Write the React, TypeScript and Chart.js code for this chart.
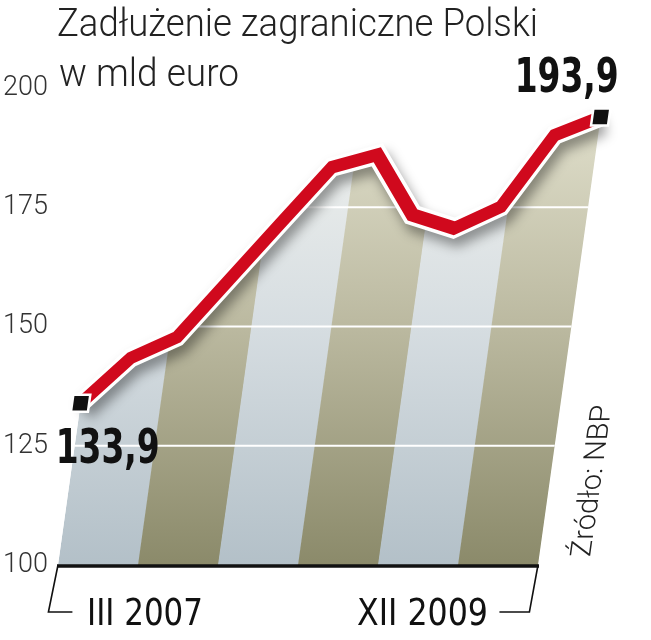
import React, { useEffect, useRef } from "react";
import { Chart, registerables } from "chart.js";

Chart.register(...registerables);

// ---- data ----
const categories = [
  "III 2007", "VI 2007", "IX 2007", "XII 2007",
  "III 2008", "VI 2008", "IX 2008", "XII 2008",
  "III 2009", "VI 2009", "IX 2009", "XII 2009",
];
const debtValues = [133.9, 143.4, 147.8, 159.7, 171.6, 183.4, 186.0, 173.4, 170.6, 175.1, 190.1, 193.9];
const yTicks = [100, 125, 150, 175, 200];
const titleLines = ["Zadłużenie zagraniczne Polski", "w mld euro"];
const sourceText = "Źródło: NBP";

// ---- styles ----
const SKEW = 0.14;
const bandColors = [
  ["#f3f4f0", "#d6dde1", "#b3c0c8"],
  ["#e4e3d0", "#bbb9a0", "#8b8a6a"],
  ["#f3f4f0", "#d6dde1", "#b3c0c8"],
  ["#e4e3d0", "#bbb9a0", "#8b8a6a"],
  ["#f3f4f0", "#d6dde1", "#b3c0c8"],
  ["#e4e3d0", "#bbb9a0", "#8b8a6a"],
];
const NARROW_BOLD = "bold 48px 'Liberation Sans Narrow', 'DejaVu Sans Condensed', sans-serif";
const NARROW = "37px 'DejaVu Sans Condensed', 'Liberation Sans Narrow', sans-serif";
const LIGHT = "Roboto, 'DejaVu Sans', sans-serif";

const fmt = (v: number) => v.toFixed(1).replace(".", ",");

const perspectivePlugin = {
  id: "perspective",
  beforeDatasetsDraw(chart: any) {
    const { ctx, chartArea: a, scales } = chart;
    ctx.save();
    ctx.transform(1, 0, -SKEW, 1, SKEW * a.bottom, 0);
    const pts = chart.getDatasetMeta(1).data;
    ctx.save();
    ctx.beginPath();
    ctx.moveTo(pts[0].x, a.bottom);
    pts.forEach((p: any) => ctx.lineTo(p.x, p.y));
    ctx.lineTo(pts[pts.length - 1].x, a.bottom);
    ctx.closePath();
    ctx.clip();
    const bw = (a.right - a.left) / bandColors.length;
    bandColors.forEach((stops, j) => {
      const g = ctx.createLinearGradient(0, a.top, 0, a.bottom);
      stops.forEach((c, i) => g.addColorStop(i / (stops.length - 1), c));
      ctx.fillStyle = g;
      ctx.fillRect(a.left + j * bw, a.top - 60, bw + 0.6, a.bottom - a.top + 60);
    });
    ctx.strokeStyle = "#ffffff";
    ctx.lineWidth = 2.2;
    yTicks.slice(1, -1).forEach((v) => {
      const y = scales.y.getPixelForValue(v);
      ctx.beginPath();
      ctx.moveTo(a.left - 80, y);
      ctx.lineTo(a.right + 80, y);
      ctx.stroke();
    });
    ctx.restore();
  },
  beforeDatasetDraw(chart: any, args: any) {
    const ctx = chart.ctx;
    ctx.save();
    if (args.index === 2) {
      ctx.shadowColor = "rgba(0,0,0,0.38)";
      ctx.shadowBlur = 12;
      ctx.shadowOffsetX = 4;
      ctx.shadowOffsetY = 8;
    }
  },
  afterDatasetDraw(chart: any) {
    chart.ctx.restore();
  },
  afterDatasetsDraw(chart: any) {
    chart.ctx.restore();
  },
  afterDraw(chart: any) {
    const { ctx, chartArea: a } = chart;
    const sx = (x: number, y: number) => x + SKEW * (a.bottom - y);
    const pts = chart.getDatasetMeta(1).data;
    const first = pts[0];
    const last = pts[pts.length - 1];

    // axis line
    ctx.save();
    ctx.strokeStyle = "#111";
    ctx.lineWidth = 3.5;
    ctx.beginPath();
    ctx.moveTo(a.left - 1, a.bottom + 1);
    ctx.lineTo(a.right + 1, a.bottom + 1);
    ctx.stroke();

    // brackets (skewed tick lines)
    ctx.lineWidth = 1.6;
    const by = a.bottom + 47;
    ctx.beginPath();
    ctx.moveTo(a.left, a.bottom);
    ctx.lineTo(sx(a.left, by) - 3, by);
    ctx.lineTo(sx(a.left, by) + 21, by);
    ctx.moveTo(a.right, a.bottom);
    ctx.lineTo(sx(a.right, by) - 2, by);
    ctx.lineTo(sx(a.right, by) - 32, by);
    ctx.stroke();

    // x labels
    ctx.fillStyle = "#111";
    ctx.font = NARROW;
    ctx.textBaseline = "alphabetic";
    ctx.textAlign = "left";
    ctx.fillText(categories[0], a.left + 29, a.bottom + 60, 116);
    ctx.textAlign = "right";
    ctx.fillText(categories[categories.length - 1], a.right - 50, a.bottom + 60, 131);

    // value labels
    ctx.font = NARROW_BOLD;
    ctx.textAlign = "left";
    const fx = sx(first.x, first.y);
    ctx.fillText(fmt(debtValues[0]), fx - 25, first.y + 60, 104);
    ctx.textAlign = "right";
    const lx = sx(last.x, last.y);
    ctx.fillText(fmt(debtValues[debtValues.length - 1]), lx + 18, last.y - 25, 104);

    // title
    ctx.textAlign = "left";
    ctx.fillStyle = "#222";
    ctx.font = "300 38px " + LIGHT;
    ctx.fillText(titleLines[0], 57, 36, 481);
    ctx.fillText(titleLines[1], 59, 86, 180);

    // source (rotated, skewed)
    ctx.save();
    ctx.transform(1, 0, -SKEW, 1, SKEW * a.bottom, 0);
    ctx.translate(a.right + 51, a.bottom - 8);
    ctx.rotate(-Math.PI / 2);
    ctx.font = "300 29px " + LIGHT;
    ctx.fillStyle = "#222";
    ctx.textAlign = "left";
    ctx.fillText(sourceText, 0, 0);
    ctx.restore();
    ctx.restore();
  },
};

export default function App() {
  const ref = useRef<HTMLCanvasElement>(null);
  useEffect(() => {
    const canvas = ref.current!;
    const lastIdx = debtValues.length - 1;
    const isEnd = (c: any) => c.dataIndex === 0 || c.dataIndex === lastIdx;
    const chart = new Chart(canvas, {
      type: "line",
      data: {
        labels: categories,
        datasets: [
          {
            label: "markers",
            data: debtValues,
            showLine: false,
            pointStyle: "rect",
            pointRadius: (c: any) => (isEnd(c) ? 12 : 0),
            pointHoverRadius: (c: any) => (isEnd(c) ? 12 : 0),
            pointBackgroundColor: "#111",
            pointBorderColor: "#ffffff",
            pointBorderWidth: 2.5,
            clip: false,
          } as any,
          {
            label: "debt",
            data: debtValues,
            borderColor: "#d0091d",
            borderWidth: 13,
            borderJoinStyle: "miter",
            borderCapStyle: "butt",
            tension: 0,
            pointRadius: 0,
            fill: false,
            clip: false,
          } as any,
          {
            label: "outline",
            data: debtValues,
            borderColor: "#ffffff",
            borderWidth: 20,
            borderJoinStyle: "miter",
            borderCapStyle: "butt",
            tension: 0,
            pointRadius: 0,
            fill: false,
            clip: false,
          } as any,
        ],
      },
      options: {
        animation: false,
        responsive: false,
        events: [],
        layout: { padding: { top: 88, bottom: 75, right: 113, left: 0 } },
        plugins: {
          legend: { display: false },
          title: { display: false },
          tooltip: { enabled: false },
        },
        scales: {
          x: {
            type: "category",
            display: false,
            offset: false,
          },
          y: {
            min: yTicks[0],
            max: yTicks[yTicks.length - 1],
            afterFit: (s: any) => {
              s.width = 58;
            },
            afterBuildTicks: (s: any) => {
              s.ticks = yTicks.map((v) => ({ value: v }));
            },
            grid: { display: false, drawTicks: false },
            border: { display: false },
            ticks: {
              padding: 10,
              color: "#333",
              font: { family: LIGHT, size: 27, weight: "300" as any },
            },
          },
        },
      },
      plugins: [perspectivePlugin],
    } as any);
    return () => chart.destroy();
  }, []);
  return (
    <div style={{ position: "absolute", left: 0, top: 0, width: 651, height: 640, background: "#fff" }}>
      <canvas ref={ref} width={651} height={640} style={{ display: "block" }} />
    </div>
  );
}
